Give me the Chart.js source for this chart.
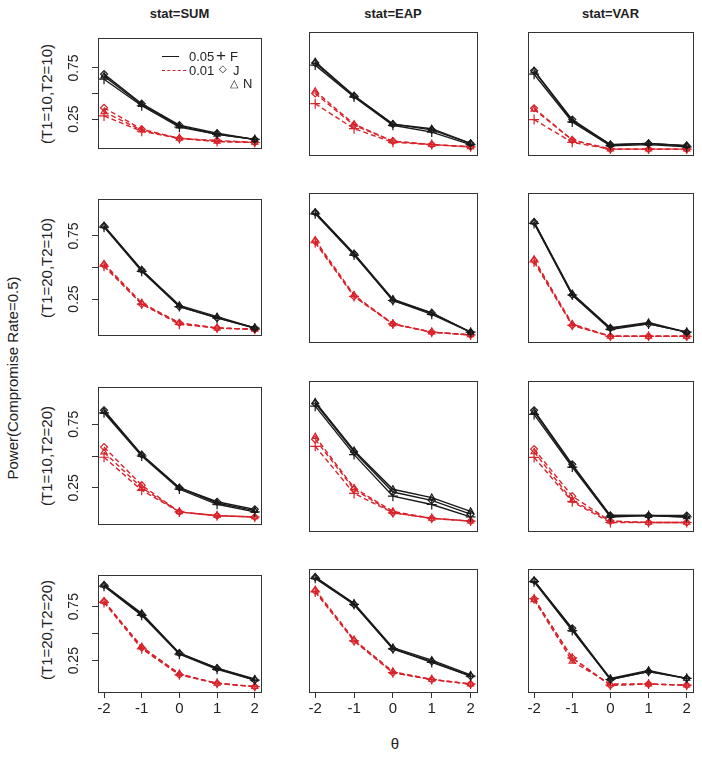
<!DOCTYPE html>
<html>
<head>
<meta charset="utf-8">
<script src="https://cdn.jsdelivr.net/npm/chart.js@4.4.1/dist/chart.umd.min.js"></script>
<style>
  body { margin: 0; background: #fff; font-family: "Liberation Sans", Arial, sans-serif; }
  #wrap { position: relative; width: 702px; height: 757px; overflow: hidden; }
  canvas { position: absolute; }
  .txt { position: absolute; white-space: nowrap; color: #222; }
  .vert { transform: translate(-50%, -50%) rotate(-90deg); }
  .ctr { transform: translate(-50%, -50%); }
</style>
</head>
<body>
<div id="wrap"></div>
<script>
// theta grid and labels
var theta = [-2, -1, 0, 1, 2];
var yTicks = [0.25, 0.5, 0.75];
var statNames = ["stat=SUM", "stat=EAP", "stat=VAR"];
var rowNames = ["(T1=10,T2=10)", "(T1=20,T2=10)", "(T1=10,T2=20)", "(T1=20,T2=20)"];
var seriesNames = ["0.05 F", "0.05 J", "0.05 N", "0.01 F", "0.01 J", "0.01 N"];

// each panel: rows = F,J,N at 0.05 then F,J,N at 0.01
var sum_10_10 = [
  [0.64, 0.38, 0.17, 0.10, 0.05],
  [0.69, 0.40, 0.19, 0.11, 0.05],
  [0.67, 0.39, 0.18, 0.10, 0.05],
  [0.28, 0.13, 0.06, 0.03, 0.02],
  [0.36, 0.15, 0.06, 0.04, 0.02],
  [0.32, 0.14, 0.06, 0.03, 0.02]
];
var eap_10_10 = [
  [0.75, 0.47, 0.22, 0.16, 0.05],
  [0.77, 0.48, 0.23, 0.18, 0.06],
  [0.78, 0.48, 0.23, 0.19, 0.06],
  [0.41, 0.19, 0.07, 0.05, 0.03],
  [0.50, 0.22, 0.08, 0.05, 0.03],
  [0.52, 0.23, 0.08, 0.05, 0.03]
];
var var_10_10 = [
  [0.67, 0.25, 0.04, 0.05, 0.03],
  [0.70, 0.27, 0.05, 0.06, 0.04],
  [0.70, 0.26, 0.05, 0.06, 0.04],
  [0.27, 0.07, 0.01, 0.01, 0.01],
  [0.37, 0.09, 0.01, 0.01, 0.01],
  [0.36, 0.09, 0.01, 0.01, 0.01]
];
var sum_20_10 = [
  [0.82, 0.47, 0.19, 0.10, 0.02],
  [0.83, 0.48, 0.19, 0.10, 0.02],
  [0.83, 0.48, 0.20, 0.11, 0.02],
  [0.51, 0.21, 0.05, 0.02, 0.01],
  [0.52, 0.21, 0.06, 0.02, 0.01],
  [0.53, 0.22, 0.06, 0.02, 0.01]
];
var eap_20_10 = [
  [0.89, 0.59, 0.26, 0.16, 0.03],
  [0.90, 0.60, 0.26, 0.17, 0.03],
  [0.90, 0.60, 0.27, 0.17, 0.03],
  [0.68, 0.29, 0.09, 0.03, 0.01],
  [0.69, 0.29, 0.09, 0.03, 0.01],
  [0.70, 0.30, 0.09, 0.03, 0.01]
];
var var_20_10 = [
  [0.82, 0.30, 0.05, 0.09, 0.03],
  [0.83, 0.30, 0.06, 0.09, 0.03],
  [0.83, 0.31, 0.06, 0.10, 0.03],
  [0.54, 0.08, 0.00, 0.00, 0.00],
  [0.55, 0.08, 0.00, 0.00, 0.00],
  [0.56, 0.09, 0.00, 0.00, 0.00]
];
var sum_10_20 = [
  [0.84, 0.50, 0.24, 0.12, 0.06],
  [0.86, 0.51, 0.25, 0.14, 0.08],
  [0.85, 0.51, 0.25, 0.13, 0.07],
  [0.49, 0.23, 0.06, 0.03, 0.02],
  [0.57, 0.27, 0.06, 0.03, 0.02],
  [0.53, 0.25, 0.06, 0.03, 0.02]
];
var eap_10_20 = [
  [0.86, 0.51, 0.21, 0.15, 0.06],
  [0.88, 0.53, 0.24, 0.18, 0.08],
  [0.89, 0.54, 0.26, 0.20, 0.10],
  [0.57, 0.23, 0.09, 0.05, 0.03],
  [0.62, 0.26, 0.09, 0.05, 0.03],
  [0.64, 0.27, 0.10, 0.05, 0.03]
];
var var_10_20 = [
  [0.80, 0.42, 0.06, 0.07, 0.06],
  [0.83, 0.44, 0.07, 0.07, 0.07],
  [0.82, 0.43, 0.07, 0.07, 0.06],
  [0.49, 0.17, 0.02, 0.02, 0.02],
  [0.55, 0.21, 0.03, 0.02, 0.02],
  [0.53, 0.18, 0.03, 0.02, 0.02]
];
var sum_20_20 = [
  [0.94, 0.67, 0.31, 0.17, 0.07],
  [0.95, 0.68, 0.32, 0.18, 0.07],
  [0.95, 0.69, 0.32, 0.18, 0.08],
  [0.79, 0.36, 0.12, 0.04, 0.01],
  [0.80, 0.37, 0.12, 0.04, 0.01],
  [0.80, 0.38, 0.13, 0.04, 0.01]
];
var eap_20_20 = [
  [0.96, 0.73, 0.34, 0.22, 0.10],
  [0.97, 0.73, 0.34, 0.23, 0.10],
  [0.97, 0.74, 0.35, 0.24, 0.11],
  [0.84, 0.41, 0.13, 0.07, 0.03],
  [0.85, 0.41, 0.13, 0.07, 0.03],
  [0.86, 0.42, 0.14, 0.07, 0.03]
];
var var_20_20 = [
  [0.93, 0.50, 0.07, 0.14, 0.08],
  [0.94, 0.52, 0.07, 0.14, 0.08],
  [0.94, 0.51, 0.08, 0.15, 0.08],
  [0.78, 0.26, 0.02, 0.03, 0.02],
  [0.78, 0.26, 0.02, 0.03, 0.02],
  [0.77, 0.23, 0.03, 0.03, 0.02]
];

var panels = [
  [sum_10_10, eap_10_10, var_10_10],
  [sum_20_10, eap_20_10, var_20_10],
  [sum_10_20, eap_10_20, var_10_20],
  [sum_20_20, eap_20_20, var_20_20]
];

// plot boxes in page pixels
var colBox = [[98, 261], [309, 477], [528, 693]];
var rowBox = [[30, 157], [191, 344], [379, 533], [567, 692]];

var RED = "#d8232a";
var BLACK = "#1a1a1a";
var pointStyles = ["cross", "rectRot", "triangle"];

var wrap = document.getElementById("wrap");

function addText(str, x, y, cls, css) {
  var d = document.createElement("div");
  d.className = "txt " + cls;
  d.textContent = str;
  d.style.left = x + "px";
  d.style.top = y + "px";
  for (var k in css) d.style[k] = css[k];
  wrap.appendChild(d);
  return d;
}

var boxPlugin = {
  id: "box",
  afterDraw(chart) {
    var a = chart.chartArea, ctx = chart.ctx;
    ctx.save();
    ctx.strokeStyle = "#333";
    ctx.lineWidth = 1;
    ctx.strokeRect(Math.round(a.left) + 0.5, Math.round(a.top) + 0.5, Math.round(a.right - a.left), Math.round(a.bottom - a.top));
    ctx.restore();
  }
};

function makePanel(r, c) {
  var L = colBox[c][0], R = colBox[c][1], T = rowBox[r][0], B = rowBox[r][1];
  var isLeft = c === 0, isBottom = r === 3;
  var xh = isBottom ? 34 : 4;
  var cv = document.createElement("canvas");
  var W = (R - L) + 46, H = (B - T) + 4 + xh;
  cv.width = W; cv.height = H;
  cv.style.left = (L - 40) + "px";
  cv.style.top = (T - 4) + "px";
  wrap.appendChild(cv);

  var data = panels[r][c];
  var datasets = data.map(function (vals, i) {
    var red = i >= 3;
    var col = red ? RED : BLACK;
    return {
      label: seriesNames[i],
      data: vals.map(function (v, j) { return { x: theta[j], y: v }; }),
      borderColor: col,
      backgroundColor: "rgba(0,0,0,0)",
      borderWidth: 1.4,
      borderDash: red ? [5, 3] : [],
      pointStyle: pointStyles[i % 3],
      pointRadius: i % 3 === 0 ? 5 : 3.5,
      pointBorderColor: col,
      pointBorderWidth: 1.2,
      pointBackgroundColor: "rgba(0,0,0,0)",
      tension: 0
    };
  });

  new Chart(cv.getContext("2d"), {
    type: "line",
    data: { datasets: datasets },
    options: {
      responsive: false,
      animation: false,
      devicePixelRatio: 1,
      layout: { padding: { left: 0, right: 6, top: 4, bottom: 0 } },
      plugins: { legend: { display: false }, tooltip: { enabled: false } },
      scales: {
        x: {
          type: "linear",
          min: -2.16, max: 2.16,
          afterBuildTicks: function (s) { s.ticks = theta.map(function (v) { return { value: v }; }); },
          afterFit: function (s) { s.height = xh; },
          border: { display: false },
          grid: { display: isBottom, drawOnChartArea: false, drawTicks: true, tickLength: 6, color: "#333" },
          ticks: {
            display: isBottom, autoSkip: false, maxRotation: 0, padding: 2, color: "#222",
            font: { family: "Liberation Sans", size: 15 },
            callback: function (v) { return String(v); }
          }
        },
        y: {
          type: "linear",
          min: -0.04, max: 1.04,
          afterBuildTicks: function (s) { s.ticks = yTicks.map(function (v) { return { value: v }; }); },
          afterFit: function (s) { s.width = 40; },
          border: { display: false },
          grid: { display: isLeft, drawOnChartArea: false, drawTicks: true, tickLength: 6, color: "#333" },
          ticks: {
            display: isLeft, autoSkip: false, minRotation: 90, maxRotation: 90,
            crossAlign: "center", padding: 4, color: "#222",
            font: { family: "Liberation Sans", size: 14 },
            callback: function (v) { return v === 0.5 ? "" : String(v); }
          }
        }
      }
    },
    plugins: [boxPlugin]
  });
}

for (var r = 0; r < 4; r++) {
  for (var c = 0; c < 3; c++) makePanel(r, c);
}

// column titles
statNames.forEach(function (s, c) {
  addText(s, (colBox[c][0] + colBox[c][1]) / 2, 13, "ctr", { fontWeight: "bold", fontSize: "13px" });
});
// row labels
rowNames.forEach(function (s, r) {
  addText(s, 46, (rowBox[r][0] + rowBox[r][1]) / 2, "vert", { fontSize: "15px" });
});
addText("Power(Compromise Rate=0.5)", 12, 378, "vert", { fontSize: "15px" });
addText("\u03b8", 395, 743, "ctr", { fontSize: "15px" });

// legend in first panel
function legLine(x, y, w, red) {
  var d = document.createElement("div");
  d.style.position = "absolute";
  d.style.left = x + "px";
  d.style.top = y + "px";
  d.style.width = w + "px";
  d.style.borderTop = red ? "1.5px dashed " + RED : "1.5px solid " + BLACK;
  wrap.appendChild(d);
}
legLine(162, 56, 17, false);
legLine(162, 70, 24, true);
addText("0.05", 189, 49, "", { fontSize: "13px" });
addText("0.01", 189, 63, "", { fontSize: "13px" });
addText("+", 216, 46, "", { fontSize: "17px" });
addText("F", 230, 49, "", { fontSize: "13px" });
addText("\u25c7", 219, 63, "", { fontSize: "10px" });
addText("J", 233, 63, "", { fontSize: "13px" });
addText("\u25b3", 230, 77, "", { fontSize: "11px" });
addText("N", 243, 76, "", { fontSize: "13px" });
</script>
</body>
</html>
